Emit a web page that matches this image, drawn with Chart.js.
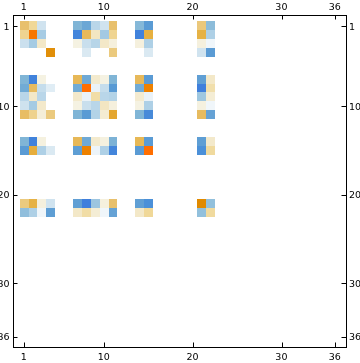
<!DOCTYPE html>
<html>
<head>
<meta charset="utf-8">
<style>html,body{margin:0;padding:0;background:#fff}canvas{display:block}</style>
<script src="https://cdn.jsdelivr.net/npm/chart.js@4"></script>
</head>
<body>
<canvas id="c" width="360" height="363"></canvas>
<script>
const tickValues = [1, 10, 20, 30, 36];
const columns = [1, 2, 3, 4, 7, 8, 9, 10, 11, 14, 15, 21, 22];
const rows = [1, 2, 3, 4, 7, 8, 9, 10, 11, 14, 15, 21, 22];
const row1  = [.55,.35,-.15,null,-.5,-.6,-.25,-.15,.55,-.48,-.68,.48,-.45];
const row2  = [.38,.97,-.33,null,-.95,.62,.2,-.35,.38,-.97,.72,.7,-.3];
const row3  = [-.17,-.34,.18,null,.08,-.18,-.26,.18,.1,.1,-.3,.1,-.05];
const row4  = [null,null,null,.85,null,-.12,null,null,.47,null,-.12,-.15,-.68];
const row7  = [-.5,-.97,.08,null,.63,-.58,.16,.08,-.5,.62,-.68,-.65,.18];
const row8  = [-.57,.6,-.2,-.1,-.57,1,-.07,-.2,-.7,-.57,.92,-1,.28];
const row9  = [-.25,.18,-.25,null,.17,-.07,.3,-.25,-.28,.15,-.07,-.37,.13];
const row10 = [-.16,-.34,.17,null,.08,-.18,-.25,.2,.1,.08,-.3,.09,-.05];
const row11 = [.58,.4,.12,.47,-.5,-.68,-.28,.14,.76,-.5,-.9,.6,-.63];
const row14 = [-.5,-.97,.09,null,.63,-.58,.16,.09,-.52,.64,-.68,-.66,.17];
const row15 = [-.68,.73,-.3,-.12,-.66,.92,-.06,-.3,-.95,-.68,1,-.85,.33];
const row21 = [.47,.7,.1,-.15,-.65,-1,-.38,.1,.55,-.65,-.85,.87,-.42];
const row22 = [-.43,-.3,-.05,-.66,.18,.3,.13,-.05,-.63,.18,.35,-.42,.33];
const matrix = [row1,row2,row3,row4,row7,row8,row9,row10,row11,row14,row15,row21,row22];

const colorStops = [
  [-1,[63,127,220]],[-.85,[75,144,216]],[-.68,[90,155,212]],[-.5,[128,181,214]],[-.3,[174,208,230]],
  [-.15,[208,227,239]],[-.05,[240,246,250]],[0,[255,255,255]],
  [.08,[245,242,226]],[.18,[243,232,200]],[.35,[240,216,152]],[.55,[232,192,108]],
  [.72,[230,176,64]],[.87,[224,138,0]],[.95,[244,124,0]],[1,[255,110,0]]
];
function colorOf(v){
  for(let i=1;i<colorStops.length;i++){
    const [a,ca]=colorStops[i-1],[b,cb]=colorStops[i];
    if(v<=b){const t=(v-a)/(b-a);return 'rgb('+ca.map((c,k)=>Math.round(c+(cb[k]-c)*t)).join(',')+')';}
  }
  return 'rgb(255,110,0)';
}
const cells=[];
matrix.forEach((vals,r)=>vals.forEach((v,c)=>{if(v!==null)cells.push({x:columns[c],y:rows[r],v});}));

const crispCells={
  id:'crispCells',
  beforeDatasetDraw(chart,args){
    const {ctx,scales:{x,y}}=chart;
    const px=v=>Math.floor(x.getPixelForValue(v)+.1);
    const py=v=>Math.floor(y.getPixelForValue(v)-.15);
    ctx.save();
    args.meta.data.forEach((el,i)=>{
      const d=cells[i];
      ctx.fillStyle=colorOf(d.v);
      const l=px(d.x-.5),t=py(d.y-.5);
      ctx.fillRect(l,t,px(d.x+.5)-l,py(d.y+.5)-t);
    });
    ctx.restore();
    return false;
  }
};

const xMin=-.294,xMax=37.18,yMin=-.2958,yMax=37.112;
const font={family:'"DejaVu Sans"',size:9.5};
const setTicks=s=>{s.ticks=tickValues.map(v=>({value:v,label:String(v)}));};
function axis(pos,min,max,size,pad,labelOffset,extra){
  const horiz=pos==='top'||pos==='bottom';
  return Object.assign({
    type:'linear',position:pos,min,max,offset:false,
    border:{display:true,color:'#000',width:1},
    grid:{display:true,drawOnChartArea:false,drawTicks:true,tickLength:-4.5,color:'#000',lineWidth:1},
    ticks:{color:'#000',font,padding:pad,labelOffset,maxRotation:0,minRotation:0,autoSkip:false,align:'center'},
    afterBuildTicks:setTicks,
    afterFit(s){ if(horiz)s.height=size; else s.width=size; }
  },extra||{});
}
new Chart(document.getElementById('c'),{
  type:'scatter',
  data:{datasets:[{data:cells,backgroundColor:cells.map(d=>colorOf(d.v)),pointStyle:'rect',pointRadius:6.3,borderWidth:0}]},
  plugins:[crispCells],
  options:{
    responsive:false,animation:false,devicePixelRatio:1,
    layout:{padding:0},
    plugins:{legend:{display:false},tooltip:{enabled:false},title:{display:false}},
    scales:{
      x:axis('bottom',xMin,xMax,16,9,-.8),
      x2:axis('top',xMin,xMax,15,6,-.8),
      y:axis('left',yMin,yMax,13,8,.7,{reverse:true}),
      y2:axis('right',yMin,yMax,14,7.5,.7,{reverse:true})
    }
  }
});
</script>
</body>
</html>
